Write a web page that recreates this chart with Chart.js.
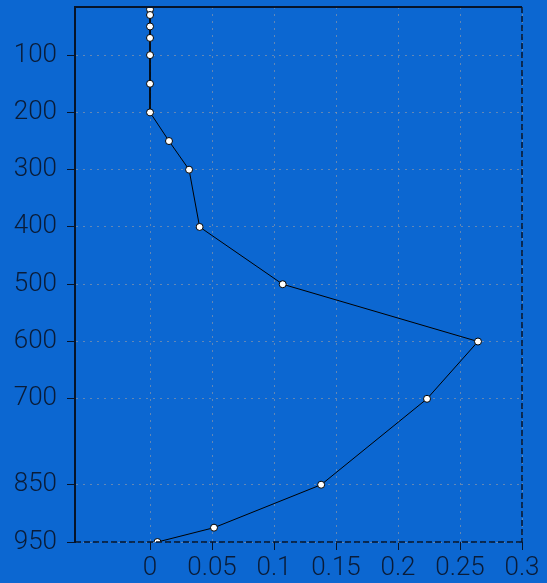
<!DOCTYPE html>
<html>
<head>
<meta charset="utf-8">
<script src="https://cdn.jsdelivr.net/npm/chart.js@4/dist/chart.umd.min.js"></script>
<style>
  html, body { margin: 0; padding: 0; background: #0c67d1; overflow: hidden; }
  canvas { display: block; }
</style>
</head>
<body>
<canvas id="Chart1" width="547" height="583"></canvas>
<script>
// pressure levels (hPa) and the profile value at each level
const levels = [10, 20, 30, 50, 70, 100, 150, 200, 250, 300, 400, 500, 600, 700, 850, 925, 950];
const values = [0, 0, 0, 0, 0, 0, 0, 0, 0.0153, 0.0315, 0.040, 0.107, 0.2645, 0.2234, 0.138, 0.0516, 0.006];
const yTicks = [100, 200, 300, 400, 500, 600, 700, 850, 950];
const xTicks = [0, 0.05, 0.1, 0.15, 0.2, 0.25, 0.3];

const textColor = '#0a1c38';
const gridColor = 'rgba(135, 150, 170, 0.7)';
const tickFont = { family: 'Roboto', size: 26, weight: 300 };

// frame: top solid, right and bottom dashed
const framePlugin = {
  id: 'frame',
  afterDraw(chart) {
    const a = chart.chartArea;
    const ctx = chart.ctx;
    ctx.save();
    ctx.strokeStyle = '#06142a';
    ctx.lineWidth = 2;
    ctx.beginPath();
    ctx.moveTo(a.left, a.top);
    ctx.lineTo(a.right, a.top);
    ctx.stroke();
    ctx.lineWidth = 1.5;
    ctx.setLineDash([6, 3]);
    ctx.beginPath();
    ctx.moveTo(a.right, a.top);
    ctx.lineTo(a.right, a.bottom);
    ctx.moveTo(a.left, a.bottom);
    ctx.lineTo(a.right, a.bottom);
    ctx.stroke();
    ctx.restore();
  }
};

const ctx = document.getElementById('Chart1').getContext('2d');
const myChart = new Chart(ctx, {
  type: 'scatter',
  data: {
    datasets: [{
      data: levels.map((p, i) => ({ x: values[i], y: p })),
      showLine: true,
      borderColor: '#000000',
      borderWidth: 1,
      pointRadius: 3.5,
      pointBackgroundColor: '#ffffff',
      pointBorderColor: '#000000',
      pointBorderWidth: 1
    }]
  },
  options: {
    responsive: false,
    animation: false,
    layout: { padding: { top: 7, right: 25, left: 0, bottom: 0 } },
    plugins: {
      legend: { display: false },
      tooltip: { enabled: false }
    },
    scales: {
      x: {
        type: 'linear',
        min: -0.0605,
        max: 0.3,
        afterBuildTicks: (scale) => { scale.ticks = xTicks.map(v => ({ value: v })); },
        afterFit: (scale) => { scale.height = 41; scale.paddingLeft = 0; scale.paddingRight = 0; },
        ticks: {
          color: textColor,
          font: tickFont,
          padding: 3,
          autoSkip: false,
          maxRotation: 0,
          callback: (v) => String(v)
        },
        grid: {
          color: gridColor,
          lineWidth: 1,
          tickColor: '#06142a',
          tickLength: 8,
          tickBorderDash: []
        },
        border: { display: false, dash: [2, 5] }
      },
      y: {
        type: 'linear',
        reverse: true,
        min: 16,
        max: 950,
        afterBuildTicks: (scale) => { scale.ticks = yTicks.map(v => ({ value: v })); },
        afterFit: (scale) => { scale.width = 75; scale.paddingTop = 0; scale.paddingBottom = 0; },
        ticks: {
          color: textColor,
          font: tickFont,
          padding: 10,
          autoSkip: false,
          callback: (v) => String(v)
        },
        grid: {
          color: gridColor,
          lineWidth: 1,
          tickColor: '#06142a',
          tickLength: 8,
          tickBorderDash: []
        },
        border: { display: true, color: '#06142a', width: 2, dash: [2, 5] }
      }
    }
  },
  plugins: [framePlugin]
});
</script>
</body>
</html>
